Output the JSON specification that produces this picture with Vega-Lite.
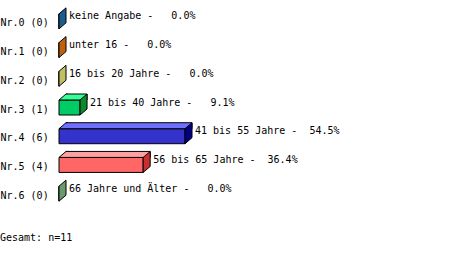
{
  "$schema": "https://vega.github.io/schema/vega-lite/v6.json",
  "autosize": {"type": "none"},
  "width": 231.2,
  "height": 201,
  "padding": {"left": 59, "top": 7, "right": 162.8, "bottom": 45},
  "background": "white",
  "config": {"view": {"stroke": null}, "font": "DejaVu Sans Mono"},
  "title": {"text": "Gesamt: n=11", "orient": "bottom", "anchor": "start", "frame": "bounds", "font": "DejaVu Sans Mono", "fontSize": 10, "fontWeight": "normal", "color": "black", "offset": 25},
  "data": {"values": [
    {"row": "Nr.0 (0)", "pct": 0, "label": "keine Angabe -\u00a0\u00a0\u00a00.0%"},
    {"row": "Nr.1 (0)", "pct": 0, "label": "unter 16 -\u00a0\u00a0\u00a00.0%"},
    {"row": "Nr.2 (0)", "pct": 0, "label": "16 bis 20 Jahre -\u00a0\u00a0\u00a00.0%"},
    {"row": "Nr.3 (1)", "pct": 9.1, "label": "21 bis 40 Jahre -\u00a0\u00a0\u00a09.1%"},
    {"row": "Nr.4 (6)", "pct": 54.5, "label": "41 bis 55 Jahre -\u00a0\u00a054.5%"},
    {"row": "Nr.5 (4)", "pct": 36.4, "label": "56 bis 65 Jahre -\u00a0\u00a036.4%"},
    {"row": "Nr.6 (0)", "pct": 0, "label": "66 Jahre und Älter -\u00a0\u00a0\u00a00.0%"}
  ]},
  "encoding": {
    "y": {"field": "row", "type": "nominal", "sort": null,
      "scale": {"paddingInner": 0, "paddingOuter": 0},
      "axis": {"title": null, "domain": false, "ticks": false, "labelAlign": "left", "labelPadding": 59, "labelFont": "DejaVu Sans Mono", "labelFontSize": 10, "labelColor": "black", "labelOffset": 2}},
    "x": {"field": "pct", "type": "quantitative", "scale": {"domain": [0, 100], "nice": false, "zero": true}, "axis": null}
  },
  "layer": [
    {
      "mark": {"type": "bar", "height": 15, "stroke": "black", "strokeWidth": 1},
      "encoding": {
        "x2": {"datum": 0},
        "fill": {"field": "row", "type": "nominal", "legend": null,
          "scale": {"domain": ["Nr.0 (0)", "Nr.1 (0)", "Nr.2 (0)", "Nr.3 (1)", "Nr.4 (6)", "Nr.5 (4)", "Nr.6 (0)"],
            "range": ["#2a7ab8", "#ff8020", "#ffff80", "#00cc66", "#3333cc", "#ff6666", "#8fce8f"]}}
      }
    },
    {
      "transform": [{"filter": "datum.pct > 0"}],
      "mark": {"type": "bar", "height": 6, "yOffset": -10.5, "xOffset": 7, "x2Offset": 7, "stroke": "black", "strokeWidth": 1},
      "encoding": {
        "x2": {"datum": 0},
        "fill": {"field": "row", "type": "nominal", "legend": null,
          "scale": {"domain": ["Nr.0 (0)", "Nr.1 (0)", "Nr.2 (0)", "Nr.3 (1)", "Nr.4 (6)", "Nr.5 (4)", "Nr.6 (0)"],
            "range": ["#5fa0d8", "#ffa060", "#ffffb0", "#33ff99", "#7070ff", "#ffa0a0", "#b0e8b0"]}}
      }
    },
    {
      "transform": [{"filter": "datum.pct > 0"}, {"calculate": "0", "as": "zero"}],
      "mark": {"type": "point", "filled": true, "size": 4, "opacity": 1, "stroke": "black", "strokeWidth": 1,
        "shape": "M9,-7.5 L0,-7.5 L7,-13.5 L9,-13.5"},
      "encoding": {
        "x": {"field": "zero", "type": "quantitative"},
        "fill": {"field": "row", "type": "nominal", "legend": null,
          "scale": {"domain": ["Nr.0 (0)", "Nr.1 (0)", "Nr.2 (0)", "Nr.3 (1)", "Nr.4 (6)", "Nr.5 (4)", "Nr.6 (0)"],
            "range": ["#5fa0d8", "#ffa060", "#ffffb0", "#33ff99", "#7070ff", "#ffa0a0", "#b0e8b0"]}}
      }
    },
    {
      "mark": {"type": "point", "filled": true, "size": 4, "opacity": 1, "stroke": "black", "strokeWidth": 1,
        "shape": "M0,7.5 L0,-7.5 L7,-13.5 L7,1.5 Z"},
      "encoding": {
        "fill": {"field": "row", "type": "nominal", "legend": null,
          "scale": {"domain": ["Nr.0 (0)", "Nr.1 (0)", "Nr.2 (0)", "Nr.3 (1)", "Nr.4 (6)", "Nr.5 (4)", "Nr.6 (0)"],
            "range": ["#1a5c8c", "#c0600c", "#c0c060", "#0a8a30", "#000080", "#c83030", "#6a9a6a"]}}
      }
    },
    {
      "mark": {"type": "text", "align": "left", "baseline": "middle", "dx": 10, "dy": -5, "font": "DejaVu Sans Mono", "fontSize": 10, "color": "black"},
      "encoding": {"text": {"field": "label"}}
    }
  ],
  "resolve": {"scale": {"fill": "independent"}}
}
